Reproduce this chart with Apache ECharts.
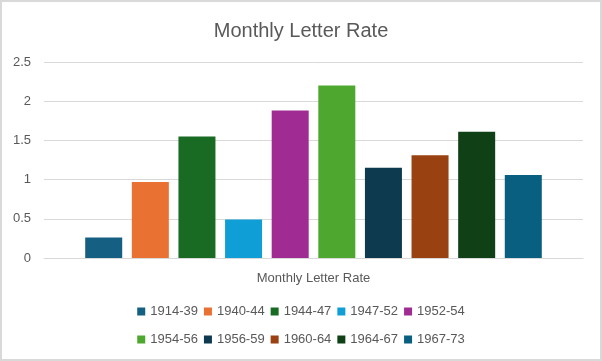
<!DOCTYPE html>
<html>
<head>
<meta charset="utf-8">
<script src="https://cdn.jsdelivr.net/npm/echarts@6/dist/echarts.min.js"></script>
<style>
html,body{margin:0;padding:0;background:#fff;}
#frame{position:absolute;left:0;top:0;width:602px;height:361px;box-sizing:border-box;border:2px solid #d9d9d9;}
#chart{position:absolute;left:0;top:0;width:602px;height:361px;}
</style>
</head>
<body>
<div id="chart"></div>
<div id="frame"></div>
<script>
var categories = ['Monthly Letter Rate'];
var seriesNames = ['1914-39','1940-44','1944-47','1947-52','1952-54','1954-56','1956-59','1960-64','1964-67','1967-73'];
var seriesValues = [0.26, 0.97, 1.55, 0.49, 1.88, 2.2, 1.15, 1.31, 1.61, 1.06];
var seriesColors = ['#156082','#E97132','#196B24','#0F9ED5','#A02B93','#4EA72E','#0D3A4E','#994111','#0F4016','#095F80'];

var font = '"Liberation Sans", Arial, sans-serif';
var chart = echarts.init(document.getElementById('chart'), null, {renderer:'canvas'});
var series = seriesNames.map(function(n,i){
  return {
    name:n, type:'bar', data:[seriesValues[i]],
    barWidth:37, barGap:'26%',
    itemStyle:{color:seriesColors[i]}
  };
});
chart.setOption({
  animation:false,
  backgroundColor:'#fff',
  title:{text:'Monthly Letter Rate', left:'center', top:16,
    textStyle:{fontFamily:font, fontSize:20, fontWeight:'normal', color:'#595959'}},
  grid:{left:44, right:19, top:62, bottom:103},
  xAxis:{type:'category', data:categories,
    axisLine:{show:true, lineStyle:{color:'#d9d9d9'}},
    axisTick:{show:false},
    axisLabel:{fontFamily:font, fontSize:13, color:'#595959', margin:14}},
  yAxis:{type:'value', min:0, max:2.5, interval:0.5,
    axisLine:{show:false}, axisTick:{show:false},
    splitLine:{lineStyle:{color:'#d9d9d9', width:1}},
    axisLabel:{fontFamily:font, fontSize:13, color:'#595959', margin:13}},
  legend:[
    {data:seriesNames.slice(0,5), left:'center', top:305, padding:0, itemWidth:8, itemHeight:8, itemGap:6,
     icon:'rect', textStyle:{fontFamily:font, fontSize:13, color:'#595959'}},
    {data:seriesNames.slice(5), left:'center', top:333, padding:0, itemWidth:8, itemHeight:8, itemGap:6,
     icon:'rect', textStyle:{fontFamily:font, fontSize:13, color:'#595959'}}
  ],
  series:series
});
</script>
</body>
</html>
